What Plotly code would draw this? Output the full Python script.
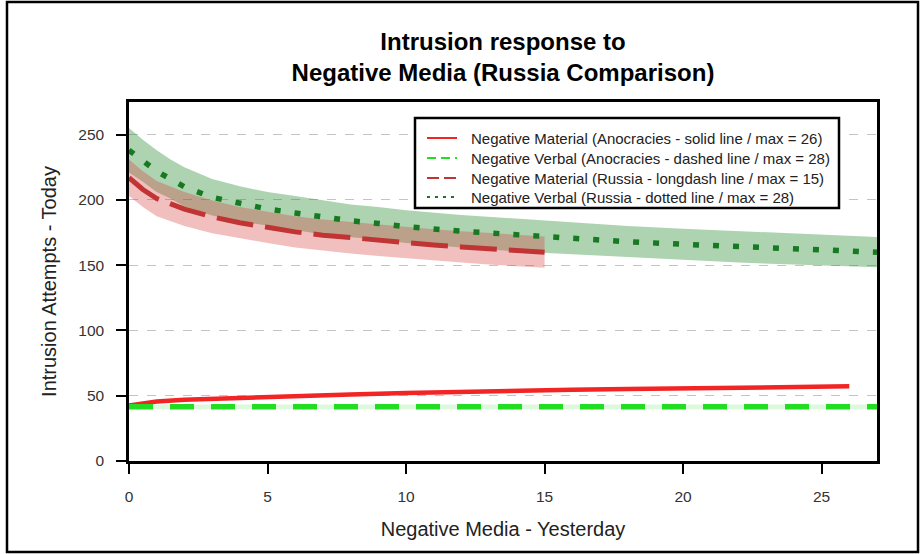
import plotly.graph_objects as go

# Negative Material, Anocracies (solid)
am_x = [0, 0.5, 1, 2, 3, 4, 5, 6, 7, 8, 10, 12, 14, 16, 18, 20, 22, 24, 26]
am_y = [42.5, 44, 45.5, 47, 47.8, 48.6, 49.3, 50, 50.5, 51, 52, 53, 53.8, 54.5, 55.1, 55.6, 56.2, 56.7, 57.2]

# Negative Verbal, Anocracies (dashed) with its narrow band
av_x = [0, 27]
av_y = [41.5, 41.5]
av_hi = [43.3, 43.3]
av_lo = [39.7, 39.7]

# Negative Material, Russia (longdash) with band
rm_x = [0, 0.5, 1, 1.5, 2, 3, 4, 5, 6, 7, 8, 9, 10, 11, 12, 13, 14, 15]
rm_y = [217, 208, 201, 197, 193, 187, 182.5, 179, 175.5, 173, 171, 169, 167, 165.5, 164, 162.5, 161, 160]
rm_hi = [231, 222, 214.5, 210, 206, 199.5, 194.5, 191, 187.5, 185, 183, 181, 179, 177.5, 176, 174.5, 173, 172]
rm_lo = [203, 194.5, 187.5, 184, 180, 174.5, 170.5, 167, 163.5, 161, 159, 157, 155, 153.5, 152, 150.5, 149, 148]

# Negative Verbal, Russia (dotted) with band
rv_x = [0, 0.5, 1, 1.5, 2, 3, 4, 5, 6, 7, 8, 9, 10, 12, 14, 16, 18, 20, 22, 24, 26, 27]
rv_y = [238, 230, 222, 216, 210, 202, 197, 193, 190, 186.5, 184, 182, 179.5, 176, 173, 170.5, 168, 166, 164, 162.5, 161, 160]
rv_hi = [255, 246, 238, 231, 225, 216, 210.5, 206, 203, 199.5, 196.5, 194.5, 192, 188.5, 185.5, 182.5, 180, 178, 176, 174.5, 172.5, 171.5]
rv_lo = [221, 214, 206, 201, 195, 188, 183.5, 180, 177, 173.5, 171.5, 169.5, 167, 163.5, 160.5, 158.5, 156, 154, 152, 150.5, 149, 148.5]

x_ticks = [0, 5, 10, 15, 20, 25]
y_ticks = [0, 50, 100, 150, 200, 250]

legend_names = [
    "Negative Material (Anocracies - solid line / max = 26)",
    "Negative Verbal (Anocracies - dashed line / max = 28)",
    "Negative Material (Russia - longdash line / max = 15)",
    "Negative Verbal (Russia - dotted line / max = 28)",
]

FONT = "Liberation Sans, Arial, sans-serif"

# (color, plot width, plot dash, key dash)
styles = [
    ("#f22424", 4.5, "solid", "solid"),
    ("#22dd22", 5.5, "24px,17px", "9px,5px"),
    ("#c03434", 5, "37px,12px", "12px,5px"),
    ("#177a22", 5.5, "6px,14px", "3px,5px"),
]
series = [(am_x, am_y), (av_x, av_y), (rm_x, rm_y), (rv_x, rv_y)]

W, H = 920, 554
L, R, T, B = 129, 43, 102, 93
pw, ph = W - L - R, H - T - B


def px_to_paper_x(px):
    return (px - L) / pw


def px_to_paper_y(py):
    return (H - B - py) / ph


def band(x, lo, hi, color):
    return go.Scatter(
        x=list(x) + list(x)[::-1],
        y=list(hi) + list(lo)[::-1],
        fill="toself", fillcolor=color,
        line=dict(width=0), mode="lines",
        hoverinfo="skip", showlegend=False,
    )


fig = go.Figure()
fig.add_trace(band(av_x, av_lo, av_hi, "rgba(60,220,60,0.18)"))
fig.add_trace(band(rv_x, rv_lo, rv_hi, "rgba(40,140,50,0.38)"))
fig.add_trace(band(rm_x, rm_lo, rm_hi, "rgba(215,60,60,0.33)"))

for name, (x, y), (color, w, dash, _) in zip(legend_names, series, styles):
    fig.add_trace(go.Scatter(x=x, y=y, mode="lines", name=name, showlegend=False,
                             line=dict(color=color, width=w, dash=dash)))

axis_common = dict(
    showline=True, mirror=True, linecolor="black", linewidth=2.5,
    ticks="outside", ticklen=10, tickwidth=2, tickcolor="black",
    tickfont=dict(family=FONT, size=15.5, color="#333333"),
    zeroline=False,
)

fig.update_layout(
    width=W, height=H,
    margin=dict(l=L, r=R, t=T, b=B),
    paper_bgcolor="white", plot_bgcolor="white",
    font=dict(family=FONT, color="black"),
    showlegend=False,
    title=dict(
        text="<b>Intrusion response to<br>Negative Media (Russia Comparison)</b>",
        x=px_to_paper_x(503), xref="paper", xanchor="center",
        y=1 - 50 / H, yref="container", yanchor="middle",
        font=dict(family=FONT, size=24, color="black"),
    ),
    xaxis=dict(
        range=[0, 27], tickvals=x_ticks, showgrid=False,
        ticklabelstandoff=10,
        title=dict(text="Negative Media - Yesterday", standoff=18,
                   font=dict(family=FONT, size=20, color="#222222")),
        **axis_common,
    ),
    yaxis=dict(
        range=[0, 275], tickvals=y_ticks, showgrid=True,
        gridcolor="#c4c4c4", gridwidth=1.2, griddash="dash",
        ticklabelstandoff=9,
        title=dict(text="Intrusion Attempts - Today", standoff=17,
                   font=dict(family=FONT, size=20, color="#222222")),
        **axis_common,
    ),
)

# Key box in the upper right of the plot
box_l, box_r, box_t, box_b = 415, 839, 118, 208
row_y = [138, 158, 178, 197]
fig.add_shape(
    type="rect", xref="paper", yref="paper",
    x0=px_to_paper_x(box_l), x1=px_to_paper_x(box_r),
    y0=px_to_paper_y(box_b), y1=px_to_paper_y(box_t),
    line=dict(color="black", width=2.5), fillcolor="white", layer="above",
)
for name, ry, (color, _, _, kdash) in zip(legend_names, row_y, styles):
    fig.add_shape(
        type="line", xref="paper", yref="paper",
        x0=px_to_paper_x(427), x1=px_to_paper_x(457),
        y0=px_to_paper_y(ry), y1=px_to_paper_y(ry),
        line=dict(color=color, width=2, dash=kdash), layer="above",
    )
    fig.add_annotation(
        text=name, xref="paper", yref="paper",
        x=px_to_paper_x(469), y=px_to_paper_y(ry),
        xanchor="left", yanchor="middle", showarrow=False,
        font=dict(family=FONT, size=15, color="#222222"),
    )

# Outer frame around the whole figure
fig.add_shape(
    type="rect", xref="paper", yref="paper",
    x0=px_to_paper_x(7), x1=px_to_paper_x(918),
    y0=px_to_paper_y(552), y1=px_to_paper_y(2),
    line=dict(color="black", width=2.5), fillcolor="rgba(0,0,0,0)",
    layer="above",
)

fig.write_html("out.html")
